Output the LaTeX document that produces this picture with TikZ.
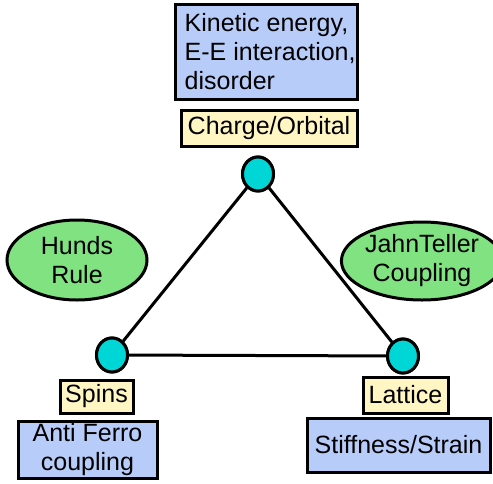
\documentclass[tikz,border=0pt]{standalone}
\usepackage{fontspec}
\setmainfont{Liberation Sans}
\usetikzlibrary{shapes.geometric}
\definecolor{boxblue}{RGB}{183,204,248}
\definecolor{boxyellow}{RGB}{255,246,196}
\definecolor{ellgreen}{RGB}{128,226,128}
\definecolor{dotcyan}{RGB}{0,214,214}
\tikzset{
  txt/.style={font=\fontsize{25}{29}\selectfont},
  bluebox/.style={draw=black, line width=3pt, fill=boxblue, inner sep=0pt, txt},
  labelbox/.style={draw=black, line width=3pt, fill=boxyellow, inner sep=0pt, txt},
  greenell/.style={ellipse, draw=black, line width=3pt, fill=ellgreen, inner sep=0pt, align=center, txt},
  dot/.style={ellipse, draw=black, line width=3pt, fill=dotcyan, minimum width=31pt, minimum height=34pt, inner sep=0pt},
  link/.style={line width=3pt, draw=black}
}
\begin{document}
\begin{tikzpicture}[x=1pt,y=-1pt]
\useasboundingbox (0,0) rectangle (493,483);
% circles
\node[dot] (co) at (258,174) {};
\node[dot] (sp) at (112,355) {};
\node[dot] (la) at (403,356) {};
% connectors
\draw[link] (co) -- (sp);
\draw[link] (sp) -- (la);
\draw[link] (la) -- (co);
\node[dot] at (258,174) {};
\node[dot] at (112,355) {};
\node[dot] at (403,356) {};
% top blue box
\node[bluebox, minimum width=182pt, minimum height=95pt] (ke) at (266,51.5) {};
\node[txt, align=left, anchor=west, inner sep=0pt] (ketxt) at ([xshift=11pt]ke.west)
  {Kinetic energy,\\E-E interaction,\\disorder};
\node[labelbox, minimum width=176pt, minimum height=36pt] (col) at (269,128) {Charge/Orbital};
% ellipses
\node[greenell, minimum width=140pt, minimum height=80pt] (hr) at (77,260) {Hunds\\Rule};
\node[greenell, minimum width=139pt, minimum height=78pt] (jt) at (422,261) {JahnTeller\\Coupling};
% bottom labels
\node[labelbox, minimum width=73pt, minimum height=33pt] (spl) at (96.5,396.5) {Spins};
\node[bluebox, minimum width=139pt, minimum height=57pt, align=center] (af) at (87.5,449.5) {Anti Ferro\\coupling};
\node[labelbox, minimum width=85pt, minimum height=36pt] (lal) at (405.5,395) {Lattice};
\node[bluebox, minimum width=183pt, minimum height=54pt] (ss) at (398.5,445) {Stiffness/Strain};
\end{tikzpicture}
\end{document}
